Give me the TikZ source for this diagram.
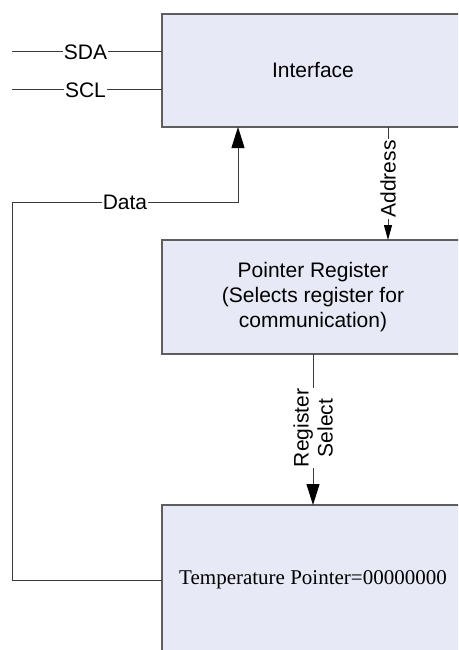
\documentclass[tikz,border=0pt]{standalone}
\usepackage{fontspec}
\setmainfont{Liberation Sans}
\newfontfamily\serifface{Liberation Serif}
\usetikzlibrary{arrows.meta,calc}
\definecolor{boxfill}{HTML}{E7EAF6}
\definecolor{boxline}{HTML}{5E5E5E}
\definecolor{wire}{HTML}{3A3A3A}
\begin{document}
\begin{tikzpicture}[x=1pt,y=-1pt,
  box/.style={draw=boxline,fill=boxfill,line width=1.2pt,anchor=north west,
    minimum width=302pt,outer sep=0pt,inner sep=0pt,align=center,
    font=\fontsize{21}{25}\selectfont},
  wireline/.style={draw=wire,line width=1pt},
  lbl/.style={fill=white,inner sep=1pt,font=\fontsize{21}{24}\selectfont},
  bighead/.style={-{Triangle[length=21pt,width=13pt,black]}},
  smallhead/.style={-{Triangle[length=15pt,width=8pt,black]}}]
\useasboundingbox (0,0) rectangle (458,650);
\clip (0,0) rectangle (458,650);
\fill[white] (0,0) rectangle (458,650);
% boxes
\node[box,minimum height=113pt] (iface) at (162,14) {Interface};
\node[box,minimum height=114pt] (ptr) at (162,240) {Pointer Register\\(Selects register for\\communication)};
\node[box,minimum height=150pt,font=\serifface\fontsize{21}{25}\selectfont] (temp) at (162,505) {Temperature Pointer=00000000};
% helper coordinates
\coordinate (sda) at (12,52);
\coordinate (scl) at (12,90);
\coordinate (corner) at (12,202);
\coordinate (dx) at (238,0);
\coordinate (ax) at (388,0);
% SDA / SCL
\draw[wireline] (sda) -- node[lbl,pos=0.49] {SDA} (sda -| iface.west);
\draw[wireline] (scl) -- node[lbl,pos=0.49] {SCL} (scl -| iface.west);
% Data
\draw[wireline,bighead] (temp.west) -- (temp.west -| corner) -- (corner)
  -- node[lbl] {Data} (corner -| dx) -- (iface.south -| dx);
% Address
\draw[wireline,smallhead] (iface.south -| ax) -- node[lbl,rotate=90,pos=0.46] {Address} (ptr.north -| ax);
% Register Select
\draw[wireline,bighead] (ptr.south) -- node[lbl,rotate=90,align=center,pos=0.49] {Register\\Select} (temp.north);
\end{tikzpicture}
\end{document}
